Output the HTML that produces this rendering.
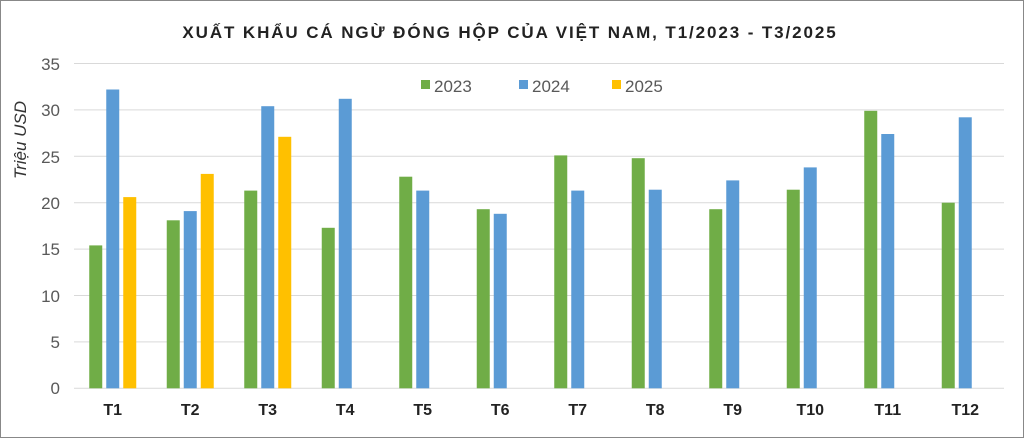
<!DOCTYPE html><html><head><meta charset="utf-8"><style>body{margin:0;background:#fff}svg{display:block}</style></head><body>
<svg width="1024" height="439" xmlns="http://www.w3.org/2000/svg" font-family="Liberation Sans, sans-serif">
<rect x="0.5" y="0.5" width="1023" height="437" fill="#fff" stroke="#888"/>
<text x="510" y="38" text-anchor="middle" font-size="17" font-weight="bold" fill="#222" letter-spacing="1.9">XUẤT KHẨU CÁ NGỪ ĐÓNG HỘP CỦA VIỆT NAM, T1/2023 - T3/2025</text>
<g stroke="#d9d9d9" stroke-width="1">
<line x1="74" x2="1004" y1="63.5" y2="63.5"/><line x1="74" x2="1004" y1="109.9" y2="109.9"/><line x1="74" x2="1004" y1="156.3" y2="156.3"/><line x1="74" x2="1004" y1="202.7" y2="202.7"/><line x1="74" x2="1004" y1="249.1" y2="249.1"/><line x1="74" x2="1004" y1="295.5" y2="295.5"/><line x1="74" x2="1004" y1="341.9" y2="341.9"/><line x1="74" x2="1004" y1="388.3" y2="388.3"/>
</g>
<g font-size="17" fill="#595959" text-anchor="end">
<text x="60" y="70">35</text><text x="60" y="116">30</text><text x="60" y="163">25</text><text x="60" y="209">20</text><text x="60" y="255">15</text><text x="60" y="302">10</text><text x="60" y="348">5</text><text x="60" y="394">0</text>
</g>
<text transform="translate(26,140) rotate(-90)" text-anchor="middle" font-size="17" font-style="italic" fill="#333">Triệu USD</text>
<g fill="#70ad47">
<rect x="89.25" y="245.4" width="13" height="142.9"/>
<rect x="166.75" y="220.3" width="13" height="168"/>
<rect x="244.25" y="190.6" width="13" height="197.7"/>
<rect x="321.75" y="227.8" width="13" height="160.5"/>
<rect x="399.25" y="176.7" width="13" height="211.6"/>
<rect x="476.75" y="209.2" width="13" height="179.1"/>
<rect x="554.25" y="155.4" width="13" height="232.9"/>
<rect x="631.75" y="158.2" width="13" height="230.1"/>
<rect x="709.25" y="209.2" width="13" height="179.1"/>
<rect x="786.75" y="189.7" width="13" height="198.6"/>
<rect x="864.25" y="110.8" width="13" height="277.5"/>
<rect x="941.75" y="202.7" width="13" height="185.6"/>
</g>
<g fill="#5b9bd5">
<rect x="106.25" y="89.5" width="13" height="298.8"/>
<rect x="183.75" y="211.1" width="13" height="177.2"/>
<rect x="261.25" y="106.2" width="13" height="282.1"/>
<rect x="338.75" y="98.8" width="13" height="289.5"/>
<rect x="416.25" y="190.6" width="13" height="197.7"/>
<rect x="493.75" y="213.8" width="13" height="174.5"/>
<rect x="571.25" y="190.6" width="13" height="197.7"/>
<rect x="648.75" y="189.7" width="13" height="198.6"/>
<rect x="726.25" y="180.4" width="13" height="207.9"/>
<rect x="803.75" y="167.4" width="13" height="220.9"/>
<rect x="881.25" y="134" width="13" height="254.3"/>
<rect x="958.75" y="117.3" width="13" height="271"/>
</g>
<g fill="#ffc000">
<rect x="123.25" y="197.1" width="13" height="191.2"/>
<rect x="200.75" y="173.9" width="13" height="214.4"/>
<rect x="278.25" y="136.8" width="13" height="251.5"/>
</g>
<g font-size="16" font-weight="bold" fill="#222" text-anchor="middle">
<text x="112.75" y="415">T1</text><text x="190.25" y="415">T2</text><text x="267.75" y="415">T3</text><text x="345.25" y="415">T4</text><text x="422.75" y="415">T5</text><text x="500.25" y="415">T6</text><text x="577.75" y="415">T7</text><text x="655.25" y="415">T8</text><text x="732.75" y="415">T9</text><text x="810.25" y="415">T10</text><text x="887.75" y="415">T11</text><text x="965.25" y="415">T12</text>
</g>
<rect x="421" y="80" width="9" height="9" fill="#70ad47"/><text x="434" y="92" font-size="17" fill="#595959">2023</text>
<rect x="519" y="80" width="9" height="9" fill="#5b9bd5"/><text x="532" y="92" font-size="17" fill="#595959">2024</text>
<rect x="612" y="80" width="9" height="9" fill="#ffc000"/><text x="625" y="92" font-size="17" fill="#595959">2025</text>
</svg></body></html>
